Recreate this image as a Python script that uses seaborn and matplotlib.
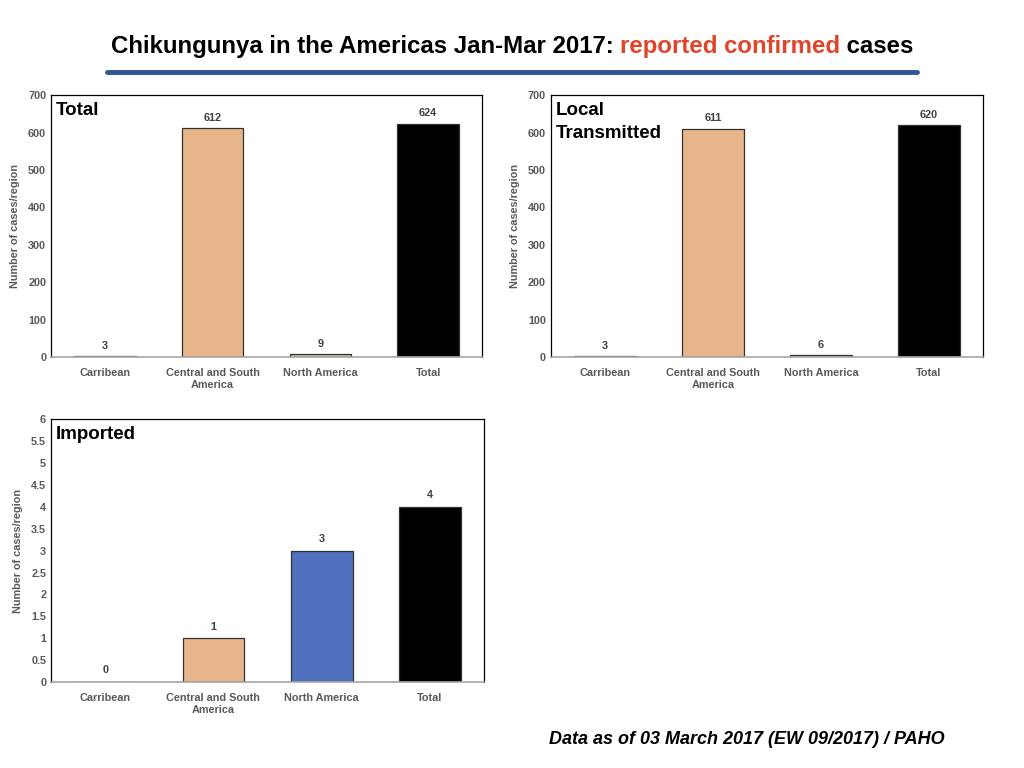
import matplotlib
matplotlib.use("Agg")
import matplotlib.pyplot as plt
import seaborn as sns
import pandas as pd
from matplotlib.ticker import FuncFormatter, MultipleLocator
from matplotlib.lines import Line2D

# Data
regions = ["Carribean", "Central and South\nAmerica", "North America", "Total"]
total_cases = [3, 612, 9, 624]
local_cases = [3, 611, 6, 620]
imported_cases = [0, 1, 3, 4]

colors_top = ["#7f7f7f", "#e8b48a", "#b3c99a", "#000000"]
colors_imp = ["#7f7f7f", "#e8b48a", "#4f71be", "#000000"]

sns.set_style("white")
plt.rcParams['font.family'] = ['Liberation Sans', 'DejaVu Sans']

GRAY = "#595959"

fig = plt.figure(figsize=(10.24, 7.68), dpi=100)


def panel(rect, values, colors, label, ymax, ystep, pad):
    ax = fig.add_axes(rect)
    df = pd.DataFrame({"region": regions, "cases": values})
    sns.barplot(data=df, x="region", y="cases", hue="region",
                palette=dict(zip(regions, colors)), legend=False, saturation=1,
                width=0.57, edgecolor="#333333", linewidth=0.9, ax=ax)
    ax.set_ylim(0, ymax)
    ax.yaxis.set_major_locator(MultipleLocator(ystep))
    ax.yaxis.set_major_formatter(FuncFormatter(lambda v, p: "%g" % v))
    ax.set_xlabel("")
    ax.set_ylabel("Number of cases/region", fontsize=7.8, color=GRAY,
                  fontweight="bold", labelpad=6)
    ax.tick_params(axis="both", length=0, labelsize=7.8, labelcolor=GRAY)
    for t in ax.get_xticklabels() + ax.get_yticklabels():
        t.set_fontweight("bold")
    ax.tick_params(axis="x", pad=8)
    for s in ["top", "left", "right"]:
        ax.spines[s].set_color("black")
        ax.spines[s].set_linewidth(0.9)
    ax.spines["bottom"].set_color("#a6a6a6")
    ax.spines["bottom"].set_linewidth(1.2)
    for i, v in enumerate(values):
        ax.text(i, v + pad, "%d" % v, ha="center", va="bottom",
                fontsize=7.8, fontweight="bold", color="#404040")
    ax.text(0.012, 0.975, label, transform=ax.transAxes, ha="left", va="top",
            fontsize=13.5, fontweight="bold", color="black", linespacing=1.45)
    return ax


panel([0.0498, 0.535, 0.421, 0.341], total_cases, colors_top, "Total", 700, 100, 14)
panel([0.538, 0.535, 0.422, 0.341], local_cases, colors_top, "Local\nTransmitted", 700, 100, 14)
panel([0.0498, 0.112, 0.423, 0.342], imported_cases, colors_imp, "Imported", 6, 0.5, 0.15)

# Title with a red segment
parts = [("Chikungunya in the Americas Jan-Mar 2017: ", "black"),
         ("reported confirmed", "#e0452b"),
         (" cases", "black")]
fig.canvas.draw()
renderer = fig.canvas.get_renderer()
texts = []
widths = []
for s, c in parts:
    t = fig.text(0, 0.94, s, fontsize=17.3, fontweight="bold", color=c,
                 ha="left", va="center")
    w = t.get_window_extent(renderer).width
    texts.append(t)
    widths.append(w)
x = (1024 - sum(widths)) / 2 / 1024
for t, w in zip(texts, widths):
    t.set_x(x)
    x += w / 1024

fig.add_artist(Line2D([107 / 1024, 917 / 1024], [1 - 72 / 768, 1 - 72 / 768],
                      color="#2e5597", linewidth=3.5, transform=fig.transFigure))

fig.text(945 / 1024, 1 - 740 / 768, "Data as of 03 March 2017 (EW 09/2017) / PAHO",
         ha="right", va="center", fontsize=13, fontweight="bold", style="italic",
         color="black")

fig.savefig("out.png", dpi=100)
